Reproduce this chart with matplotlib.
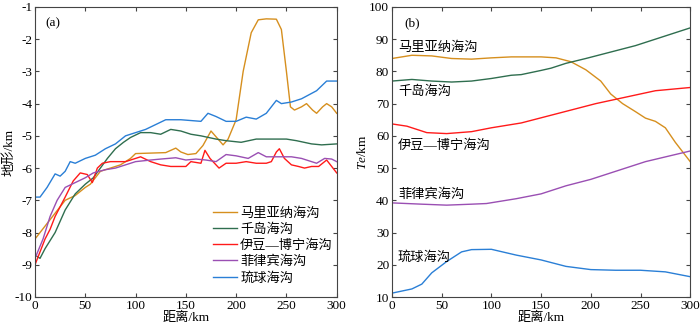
import numpy as np
import matplotlib
matplotlib.use("Agg")
import matplotlib.pyplot as plt

plt.rcParams['font.family'] = ['Liberation Serif', 'Noto Sans CJK SC']
plt.rcParams['font.size'] = 9.5
plt.rcParams['axes.unicode_minus'] = False
plt.rcParams['mathtext.fontset'] = 'custom'
plt.rcParams['mathtext.it'] = 'Liberation Serif:italic'
plt.rcParams['mathtext.rm'] = 'Liberation Serif'

names = ["马里亚纳海沟", "千岛海沟", "伊豆—博宁海沟", "菲律宾海沟", "琉球海沟"]
colors = ["#D68F1E", "#2F6E4F", "#FF1A1A", "#9A4FB3", "#2A7FD6"]

# (a) topography profiles
mar_x = [0, 15, 20, 30, 40, 50, 55, 65, 75, 85, 95, 100, 130, 135, 140, 145, 152, 160, 167, 175,
         182, 187, 192, 200, 207, 215, 222, 230, 240, 245, 250, 254, 258, 265, 270, 276, 280, 286,
         290, 295, 300]
mar_y = [-8.2, -7.6, -7.4, -7.0, -6.85, -6.6, -6.5, -6.1, -6.0, -5.9, -5.7, -5.55, -5.52, -5.45,
         -5.38, -5.5, -5.58, -5.55, -5.3, -4.85, -5.1, -5.28, -5.1, -4.5, -3.0, -1.8, -1.4, -1.37,
         -1.38, -1.7, -3.0, -4.1, -4.2, -4.1, -4.0, -4.2, -4.3, -4.1, -4.0, -4.1, -4.3]

kur_x = [0, 5, 10, 20, 30, 40, 50, 58, 65, 72, 80, 88, 95, 105, 115, 125, 135, 145, 155, 165, 180,
         190, 205, 220, 230, 240, 250, 260, 275, 285, 300]
kur_y = [-8.7, -8.8, -8.5, -8.0, -7.3, -6.8, -6.5, -6.3, -6.0, -5.7, -5.4, -5.2, -5.05, -4.9, -4.9,
         -4.95, -4.8, -4.85, -4.95, -5.0, -5.1, -5.15, -5.2, -5.1, -5.1, -5.1, -5.1, -5.15, -5.25,
         -5.28, -5.25]

izu_x = [0, 5, 10, 15, 20, 30, 38, 45, 52, 57, 62, 67, 75, 90, 100, 105, 115, 125, 135, 150, 155,
         165, 169, 174, 180, 183, 190, 200, 210, 220, 230, 235, 240, 243, 248, 255, 262, 268, 275,
         282, 290, 295, 300]
izu_y = [-9.0, -8.6, -8.2, -7.9, -7.5, -6.9, -6.4, -6.15, -6.2, -6.45, -6.0, -5.85, -5.8, -5.8,
         -5.7, -5.65, -5.8, -5.9, -5.95, -5.95, -5.8, -5.85, -5.45, -5.7, -5.9, -6.0, -5.85, -5.85,
         -5.8, -5.85, -5.85, -5.8, -5.5, -5.4, -5.7, -5.9, -5.95, -6.0, -5.95, -5.95, -5.75, -5.95,
         -6.15]

phi_x = [0, 8, 15, 22, 30, 40, 50, 58, 70, 80, 90, 100, 115, 125, 140, 150, 160, 170, 180, 190,
         200, 212, 222, 230, 245, 255, 265, 280, 288, 295, 300]
phi_y = [-8.8, -8.2, -7.5, -7.0, -6.6, -6.45, -6.3, -6.15, -6.05, -6.0, -5.9, -5.8, -5.75, -5.72,
         -5.68, -5.75, -5.72, -5.75, -5.8, -5.58, -5.62, -5.7, -5.52, -5.65, -5.65, -5.65, -5.7,
         -5.85, -5.7, -5.72, -5.8]

ryu_x = [0, 5, 12, 20, 25, 30, 35, 40, 50, 60, 70, 80, 90, 100, 110, 120, 130, 145, 165, 172, 180,
         190, 200, 210, 220, 230, 240, 245, 255, 265, 280, 290, 300]
ryu_y = [-6.9, -6.9, -6.6, -6.18, -6.25, -6.1, -5.8, -5.85, -5.7, -5.6, -5.4, -5.25, -5.0, -4.9,
         -4.8, -4.65, -4.5, -4.5, -4.55, -4.3, -4.4, -4.55, -4.55, -4.42, -4.48, -4.3, -3.9, -4.0,
         -3.95, -3.85, -3.6, -3.3, -3.3]

# (b) Te profiles
te_mar_x = [0, 20, 40, 60, 80, 100, 120, 150, 165, 180, 195, 210, 220, 232, 245, 255, 265, 275, 285, 300]
te_mar_y = [84, 85, 84.8, 84, 83.8, 84.2, 84.5, 84.5, 84.2, 83, 80.5, 77, 73, 70, 67.5, 65.5, 64.5,
            62.5, 58, 52]
te_kur_x = [0, 20, 40, 60, 80, 100, 120, 130, 150, 160, 175, 195, 220, 245, 270, 300]
te_kur_y = [77, 77.5, 77, 76.7, 77, 77.8, 78.8, 79, 80.3, 81, 82.5, 84, 86, 88, 90.5, 93.5]
te_izu_x = [0, 15, 35, 55, 80, 100, 130, 155, 180, 205, 235, 265, 300]
te_izu_y = [63.7, 63, 61, 60.7, 61.3, 62.5, 64, 66, 68, 70, 72, 74, 75]
te_phi_x = [0, 30, 55, 80, 95, 125, 150, 175, 200, 225, 255, 300]
te_phi_y = [39.2, 38.8, 38.5, 38.8, 39, 40.5, 42, 44.5, 46.5, 49, 52, 55.3]
te_ryu_x = [0, 20, 30, 40, 55, 70, 80, 100, 125, 150, 175, 200, 225, 250, 275, 300]
te_ryu_y = [11.2, 12.5, 14, 17.5, 21, 24, 24.7, 24.8, 23, 21.5, 19.5, 18.5, 18.3, 18.3, 17.8, 16.3]

# label positions in panel (b)
te_label_y = [87.3, 73.8, 57, 41.6, 22.2]

fig = plt.figure(figsize=(7, 3.3), dpi=100)
ax1 = fig.add_axes([0.05, 0.1, 0.431, 0.879])
ax2 = fig.add_axes([0.56, 0.1, 0.426, 0.879])

topo = [(mar_x, mar_y), (kur_x, kur_y), (izu_x, izu_y), (phi_x, phi_y), (ryu_x, ryu_y)]
for (x, y), c, n in zip(topo, colors, names):
    ax1.plot(x, y, color=c, lw=1.0, label=n)
ax1.set_xlim(0, 300)
ax1.set_ylim(-10, -1)
ax1.set_xticks(range(0, 301, 50))
ax1.set_yticks(range(-10, 0))
ax1.set_xlabel("距离/km", labelpad=0)
ax1.set_ylabel("地形/km")
ax1.yaxis.set_label_coords(-0.064, 0.5)
ax1.text(18, -1.5, "(a)", ha="center", va="center")
ax1.legend(loc="upper left", frameon=False, handlelength=1.8, handletextpad=0.25,
           labelspacing=0.28, borderaxespad=0, borderpad=0, bbox_to_anchor=(0.59, 0.31))

te = [(te_mar_x, te_mar_y), (te_kur_x, te_kur_y), (te_izu_x, te_izu_y),
      (te_phi_x, te_phi_y), (te_ryu_x, te_ryu_y)]
for (x, y), c, n, ly in zip(te, colors, names, te_label_y):
    ax2.plot(x, y, color=c, lw=1.0)
    ax2.text(6, ly, n, ha="left", va="center")
ax2.set_xlim(0, 300)
ax2.set_ylim(10, 100)
ax2.set_xticks(range(0, 301, 50))
ax2.set_yticks(range(10, 101, 10))
ax2.set_xlabel("距离/km", labelpad=0)
ax2.set_ylabel(r"$Te$/km")
ax2.yaxis.set_label_coords(-0.078, 0.5)
ax2.text(20, 95, "(b)", ha="center", va="center")

for ax in (ax1, ax2):
    ax.tick_params(direction="in", top=True, right=True, length=3, pad=2, color="#444")
    for s in ax.spines.values():
        s.set_color("#444")

fig.savefig("out.png", dpi=100)
